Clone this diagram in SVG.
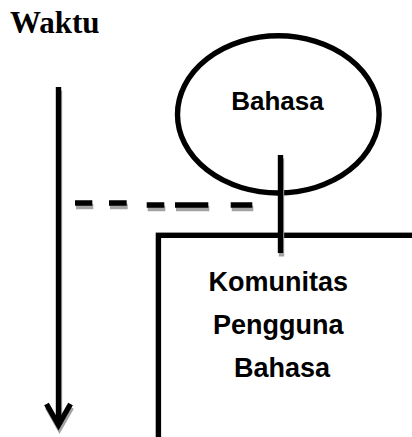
<svg xmlns="http://www.w3.org/2000/svg" width="412" height="437" viewBox="0 0 412 437">
  <style>
    .title { font-family: "Liberation Serif", "Times New Roman", serif; font-weight: bold; font-size: 31px; fill: #000; }
    .label { font-family: "Liberation Sans", Arial, sans-serif; font-weight: bold; fill: #000; text-anchor: middle; }
    .outline { fill: #fff; stroke: #000; stroke-width: 5.4; }
    .line { fill: none; stroke-width: 5.4; stroke-linecap: butt; stroke-linejoin: miter; }
    .ink { stroke: #000; }
    .shade { stroke: #a3a3a3; }
  </style>
  <defs>
    <!-- connector geometry, drawn twice: a soft grey drop shadow and the black stroke -->
    <path id="time-shaft" d="M58.5,87 V424"/>
    <path id="time-head" d="M46.5,404 L58.5,425 L70.5,404"/>
    <path id="dash-link" d="M75,203 H92.3 M109,203 H126.7 M146.7,205 H164.3 M175,205 H208.3 M230.7,205 H252.3"/>
    <path id="stem" d="M280.5,155 V253"/>
  </defs>

  <!-- time axis label -->
  <g id="waktu">
    <text class="title" x="10" y="33">Waktu</text>
  </g>

  <!-- language node -->
  <g id="bahasa">
    <ellipse class="outline" cx="278.3" cy="114.4" rx="100.8" ry="78.6"/>
    <text class="label" x="277.5" y="109.5" font-size="26">Bahasa</text>
  </g>

  <!-- language-user community node (runs off the right and bottom edges) -->
  <g id="komunitas">
    <rect class="outline" x="158.4" y="235.3" width="320" height="260"/>
    <text class="label" font-size="27">
      <tspan x="282" y="290.5">Komunitas</tspan>
      <tspan x="282" y="333.5">Pengguna</tspan>
      <tspan x="282" y="376.5">Bahasa</tspan>
    </text>
  </g>

  <g id="connectors">
    <g class="line shade" transform="translate(1,3.5)">
      <use href="#time-shaft"/>
      <use href="#time-head"/>
      <use href="#dash-link"/>
      <use href="#stem"/>
    </g>
    <g class="line ink">
      <use href="#time-shaft"/>
      <use href="#time-head"/>
      <use href="#dash-link"/>
      <use href="#stem"/>
    </g>
  </g>
</svg>
